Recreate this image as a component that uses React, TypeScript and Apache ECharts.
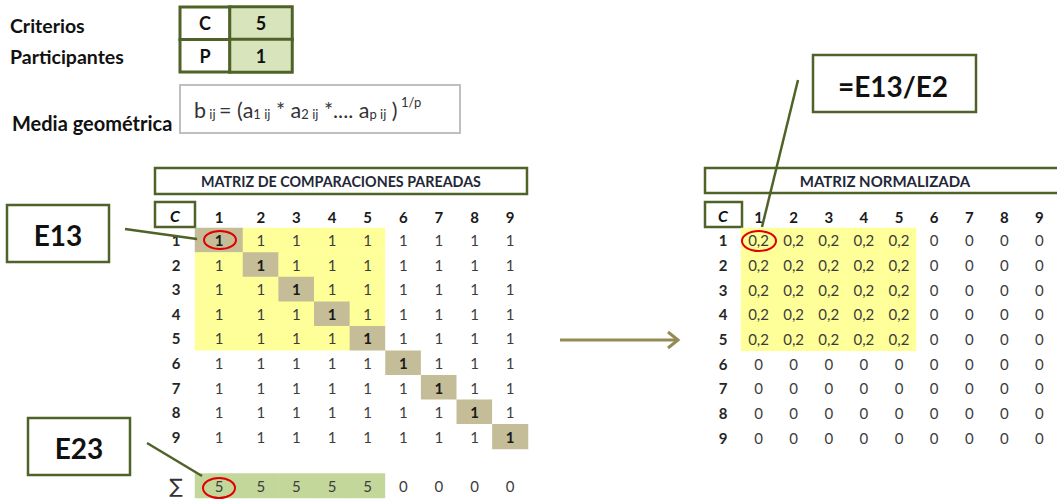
import React, { useEffect, useRef } from "react";
import * as echarts from "echarts";

// ---------- data ----------
const criteria = ["1", "2", "3", "4", "5", "6", "7", "8", "9"];
const activeCriteria = 5;
const participants = 1;
const tableLabels = ["C", "P"];
const tableValues = [activeCriteria, participants];

const pairwise = [
  [1, 1, 1, 1, 1, 1, 1, 1, 1],
  [1, 1, 1, 1, 1, 1, 1, 1, 1],
  [1, 1, 1, 1, 1, 1, 1, 1, 1],
  [1, 1, 1, 1, 1, 1, 1, 1, 1],
  [1, 1, 1, 1, 1, 1, 1, 1, 1],
  [1, 1, 1, 1, 1, 1, 1, 1, 1],
  [1, 1, 1, 1, 1, 1, 1, 1, 1],
  [1, 1, 1, 1, 1, 1, 1, 1, 1],
  [1, 1, 1, 1, 1, 1, 1, 1, 1],
];
const columnSums = [5, 5, 5, 5, 5, 0, 0, 0, 0];
const normalized = [
  [0.2, 0.2, 0.2, 0.2, 0.2, 0, 0, 0, 0],
  [0.2, 0.2, 0.2, 0.2, 0.2, 0, 0, 0, 0],
  [0.2, 0.2, 0.2, 0.2, 0.2, 0, 0, 0, 0],
  [0.2, 0.2, 0.2, 0.2, 0.2, 0, 0, 0, 0],
  [0.2, 0.2, 0.2, 0.2, 0.2, 0, 0, 0, 0],
  [0, 0, 0, 0, 0, 0, 0, 0, 0],
  [0, 0, 0, 0, 0, 0, 0, 0, 0],
  [0, 0, 0, 0, 0, 0, 0, 0, 0],
  [0, 0, 0, 0, 0, 0, 0, 0, 0],
];
const sumLabel = "∑";
const leftRowLabels = [...criteria, "", sumLabel];
const leftTitle = "MATRIZ DE COMPARACIONES PAREADAS";
const rightTitle = "MATRIZ NORMALIZADA";

// ---------- styles ----------
const FONT = "Lato, 'Open Sans', sans-serif";
const WHITE = "#ffffff";
const YELLOW = "#ffff99";
const TAN = "#c4bd97";
const GREEN = "#c4d79b";
const LIGHTGREEN = "#d7e4bc";
const OLIVE = "#4f6228";
const RED = "#e00000";
const TXT = "#3c3c3c";
const DARK = "#1a1a1a";

// fill codes used by the visualMap (4th data dimension)
const F_WHITE = 0, F_YELLOW = 1, F_TAN = 2, F_GREEN = 3, F_LIGHT = 4;

const fmt = (v: number) => String(v).replace(".", ",");

function leftCells(colFrom: number, colTo: number) {
  const out: any[] = [];
  pairwise.forEach((row, r) => {
    for (let c = colFrom; c < colTo; c++) {
      const diag = r === c;
      const code = diag ? F_TAN : r < activeCriteria && c < activeCriteria ? F_YELLOW : F_WHITE;
      out.push({
        value: [c - colFrom, r, row[c], code],
        label: { fontWeight: diag ? "bold" : "normal", color: diag ? DARK : TXT },
      });
    }
  });
  for (let c = colFrom; c < colTo; c++) {
    out.push({
      value: [c - colFrom, leftRowLabels.length - 1, columnSums[c], c < activeCriteria ? F_GREEN : F_WHITE],
      label: { fontWeight: "normal", color: TXT },
    });
  }
  return out;
}

function rightCells() {
  const out: any[] = [];
  normalized.forEach((row, r) => {
    row.forEach((v, c) => {
      out.push({
        value: [c, r, v, r < activeCriteria && c < activeCriteria ? F_YELLOW : F_WHITE],
        label: { fontWeight: "normal", color: TXT },
      });
    });
  });
  return out;
}

const xAxisBase = (data: string[], show = true) => ({
  type: "category",
  position: "top",
  data,
  axisLine: { show: false },
  axisTick: { show: false },
  splitLine: { show: false },
  axisLabel: {
    show,
    fontFamily: FONT,
    fontSize: 15,
    fontWeight: "bold",
    color: DARK,
    margin: 4,
    interval: 0,
  },
});

const yAxisBase = (data: string[], show: boolean, margin: number) => ({
  type: "category",
  inverse: true,
  data,
  axisLine: { show: false },
  axisTick: { show: false },
  splitLine: { show: false },
  axisLabel: {
    show,
    fontFamily: FONT,
    fontSize: 15,
    fontWeight: "bold",
    color: "#262626",
    align: "center",
    margin,
    interval: 0,
    formatter: (v: string) => (v === sumLabel ? `{sum|${v}}` : v),
    rich: { sum: { fontSize: 20, fontWeight: "normal", fontFamily: "'DejaVu Sans', sans-serif", color: "#333" } },
  },
});

const heatLabel = {
  show: true,
  fontFamily: FONT,
  fontSize: 15,
  color: TXT,
  formatter: (p: any) => fmt(p.value[2]),
};

export default function App() {
  const ref = useRef<HTMLDivElement>(null);

  useEffect(() => {
    if (!ref.current) return;
    const chart = echarts.init(ref.current, undefined, { renderer: "svg" });

    const box = (x: number, y: number, w: number, h: number, stroke = OLIVE, lw = 2.5, fill = "#ffffff") => ({
      type: "rect",
      shape: { x, y, width: w, height: h },
      style: { fill, stroke, lineWidth: lw },
      z: 1,
    });
    const label = (x: number, y: number, text: string, size: number, extra: any = {}) => ({
      type: "text",
      x,
      y,
      style: {
        text,
        fontFamily: FONT,
        fontSize: size,
        fontWeight: "bold",
        fill: "#111",
        align: "left",
        verticalAlign: "middle",
        ...extra,
      },
      z: 5,
    });

    const option: any = {
      animation: false,
      backgroundColor: "#ffffff",
      visualMap: {
        type: "piecewise",
        show: false,
        dimension: 3,
        seriesIndex: [0, 1, 2, 3],
        pieces: [
          { value: F_WHITE, color: WHITE },
          { value: F_YELLOW, color: YELLOW },
          { value: F_TAN, color: TAN },
          { value: F_GREEN, color: GREEN },
          { value: F_LIGHT, color: LIGHTGREEN },
        ],
      },
      grid: [
        { left: 195, top: 228, width: 48, height: 270 }, // left matrix, column 1
        { left: 243, top: 228, width: 285, height: 270 }, // left matrix, columns 2-9
        { left: 741, top: 228, width: 324, height: 222 }, // normalized
        { left: 230, top: 7, width: 62, height: 65 }, // C / P table
      ],
      xAxis: [
        xAxisBase(criteria.slice(0, 1)),
        { ...xAxisBase(criteria.slice(1)), gridIndex: 1 },
        { ...xAxisBase(criteria), gridIndex: 2 },
        { ...xAxisBase(["v"], false), gridIndex: 3 },
      ],
      yAxis: [
        yAxisBase(leftRowLabels, true, 19),
        { ...yAxisBase(leftRowLabels, false, 0), gridIndex: 1 },
        { ...yAxisBase(criteria, true, 18), gridIndex: 2 },
        {
          ...yAxisBase(tableLabels, true, 25),
          gridIndex: 3,
          axisLabel: {
            show: true,
            fontFamily: FONT,
            fontSize: 18,
            fontWeight: "bold",
            color: "#111",
            align: "center",
            margin: 25,
            interval: 0,
          },
        },
      ],
      series: [
        {
          type: "heatmap",
          xAxisIndex: 0,
          yAxisIndex: 0,
          data: leftCells(0, 1),
          label: heatLabel,
          itemStyle: { borderWidth: 0 },
          emphasis: { disabled: true },
        },
        {
          type: "heatmap",
          xAxisIndex: 1,
          yAxisIndex: 1,
          data: leftCells(1, 9),
          label: heatLabel,
          itemStyle: { borderWidth: 0 },
          emphasis: { disabled: true },
        },
        {
          type: "heatmap",
          xAxisIndex: 2,
          yAxisIndex: 2,
          data: rightCells(),
          label: heatLabel,
          itemStyle: { borderWidth: 0 },
          emphasis: { disabled: true },
        },
        {
          type: "heatmap",
          xAxisIndex: 3,
          yAxisIndex: 3,
          data: tableValues.map((v, i) => ({ value: [0, i, v, F_LIGHT] })),
          label: { ...heatLabel, fontSize: 18, fontWeight: "bold", color: "#111" },
          itemStyle: { borderWidth: 3, borderColor: OLIVE },
          emphasis: { disabled: true },
          z: 3,
        },
      ],
      graphic: [
        // top-left labels
        label(10, 25, "Criterios", 19.5),
        label(10, 56, "Participantes", 19.5),
        box(180, 7, 50, 32.5, OLIVE, 3, "none"),
        box(180, 39.5, 50, 32.5, OLIVE, 3, "none"),
        label(12, 123, "Media geométrica", 20),
        box(180, 85, 280, 48, "#bfbfbf", 2),
        {
          type: "text",
          x: 194,
          y: 108,
          z: 5,
          style: {
            text:
              "{b|b}{s| ij }{b|= (}{b|a}{s|1 ij}{b| * a}{s|2 ij}{b| *.... a}{s|p ij}{b| )}{p| 1/p}",
            verticalAlign: "middle",
            align: "left",
            rich: {
              b: { fontFamily: FONT, fontSize: 21.5, fill: "#333", verticalAlign: "bottom", lineHeight: 25 },
              s: { fontFamily: FONT, fontSize: 13, fill: "#333", verticalAlign: "bottom", lineHeight: 15 },
              p: { fontFamily: FONT, fontSize: 13, fill: "#333", verticalAlign: "top", lineHeight: 15 },
            },
          },
        },
        // matrix titles
        box(155, 168, 372, 26, OLIVE, 2.5),
        label(341, 181, leftTitle, 14.3, { align: "center", fill: "#1f2837" }),
        box(155, 202, 40, 25, OLIVE, 2.5),
        label(175, 215, "C", 16, { align: "center", fontStyle: "italic", fill: "#111" }),
        box(705, 168, 362, 25, OLIVE, 2.5),
        label(885, 181, rightTitle, 15, { align: "center", fill: "#1f2837" }),
        box(705, 202, 37, 25, OLIVE, 2.5),
        label(723, 215, "C", 16, { align: "center", fontStyle: "italic", fill: "#111" }),
        // callouts
        box(7, 205, 102, 57, OLIVE, 2.5),
        label(58, 235, "E13", 28, { align: "center", fill: "#111" }),
        { type: "line", z: 20, shape: { x1: 125, y1: 229, x2: 197, y2: 239 }, style: { stroke: OLIVE, lineWidth: 2.5 } },
        box(28, 418, 102, 57, OLIVE, 2.5),
        label(79, 448, "E23", 28, { align: "center", fill: "#111" }),
        { type: "line", z: 20, shape: { x1: 147, y1: 443, x2: 202, y2: 476 }, style: { stroke: OLIVE, lineWidth: 2.5 } },
        box(813, 55, 163, 57, OLIVE, 2.5),
        label(893, 86, "=E13/E2", 28, { align: "center", fill: "#111" }),
        { type: "line", z: 20, shape: { x1: 798, y1: 80, x2: 762, y2: 227 }, style: { stroke: OLIVE, lineWidth: 2.5 } },
        // red ellipses
        { type: "ellipse", z: 30, shape: { cx: 220, cy: 240, rx: 16, ry: 9 }, style: { fill: "none", stroke: RED, lineWidth: 2 } },
        { type: "ellipse", z: 30, shape: { cx: 219, cy: 488, rx: 16, ry: 10 }, style: { fill: "none", stroke: RED, lineWidth: 2 } },
        { type: "ellipse", z: 30, shape: { cx: 759, cy: 241, rx: 17, ry: 10 }, style: { fill: "none", stroke: RED, lineWidth: 2 } },
        // arrow
        { type: "line", z: 20, shape: { x1: 560, y1: 340, x2: 677, y2: 340 }, style: { stroke: "#948a54", lineWidth: 3 } },
        {
          type: "polyline",
          z: 20,
          shape: { points: [[668, 332], [678, 340], [668, 348]] },
          style: { stroke: "#948a54", lineWidth: 3, fill: "none" },
        },
      ],
    };

    chart.setOption(option);
    return () => chart.dispose();
  }, []);

  return (
    <div
      ref={ref}
      style={{ position: "absolute", left: 0, top: 0, width: 1057, height: 500, background: "#fff" }}
    />
  );
}
